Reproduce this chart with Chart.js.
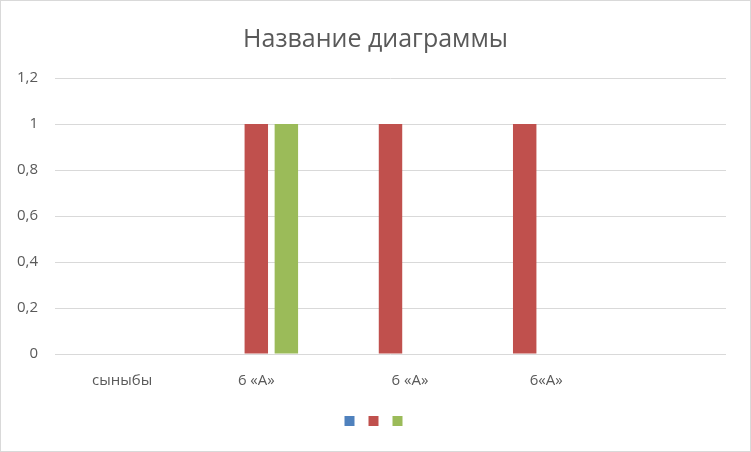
<!DOCTYPE html>
<html>
<head>
<meta charset="utf-8">
<script src="https://cdn.jsdelivr.net/npm/chart.js@4"></script>
<style>
  html, body { margin: 0; padding: 0; background: #fff; }
  #wrap { width: 751px; height: 452px; box-sizing: border-box; border: 1px solid #d9d9d9; }
</style>
</head>
<body>
<div id="wrap"><canvas id="chart" width="749" height="450"></canvas></div>
<script>
// categories as they appear on the axis (extra spaces kept, they shift the text)
const categories = ['сыныбы', '6 «А»', '          6 «А»', '           6«А»', ''];
const seriesBlue = [null, null, null, null, null];
const seriesRed = [null, 1, 1, 1, null];
const seriesGreen = [null, 1, null, null, null];
const yTicks = [0, 0.2, 0.4, 0.6, 0.8, 1, 1.2];

document.addEventListener('DOMContentLoaded', function(){
  const ctx = document.getElementById('chart');
  const grey = '#595959';

  new Chart(ctx, {
    type: 'bar',
    data: {
      labels: categories,
      datasets: [
        { label: '', data: seriesBlue, backgroundColor: '#4f81bd' },
        { label: '', data: seriesRed, backgroundColor: '#c0504d' },
        { label: '', data: seriesGreen, backgroundColor: '#9bbb59' }
      ]
    },
    options: {
      responsive: false,
      animation: false,
      categoryPercentage: 0.672,
      barPercentage: 0.78,
      layout: { padding: { left: 0, right: 0, top: 0, bottom: 15 } },
      plugins: {
        title: {
          display: true,
          text: 'Название диаграммы',
          color: grey,
          font: { family: 'Open Sans', size: 25, weight: 'normal' },
          padding: { top: 24, bottom: 23 }
        },
        legend: {
          position: 'bottom',
          labels: { boxWidth: 10, boxHeight: 10, padding: 10, font: { size: 8 } }
        },
        tooltip: { enabled: false }
      },
      scales: {
        x: {
          afterFit: function(scale){ scale.height -= 2; },
          grid: { display: false, drawTicks: false },
          border: { display: false },
          ticks: {
            color: grey,
            padding: 18,
            maxRotation: 0,
            autoSkip: false,
            font: { family: 'Open Sans', size: 15 }
          }
        },
        y: {
          min: 0,
          max: 1.2,
          afterBuildTicks: function(scale){ scale.ticks = yTicks.map(v => ({ value: v })); },
          afterFit: function(scale){ scale.width = 54; },
          grid: { color: '#d9d9d9', drawTicks: false },
          border: { display: false },
          ticks: {
            color: grey,
            padding: 17,
            font: { family: 'Open Sans', size: 15 },
            callback: v => String(Math.round(v * 10) / 10).replace('.', ',')
          }
        },
        // empty right-hand margin so title and legend stay centred on the whole picture
        right: {
          position: 'right',
          afterFit: function(scale){ scale.width = 24; },
          grid: { display: false, drawTicks: false },
          border: { display: false },
          ticks: { display: false }
        }
      }
    }
  });
});
</script>
</body>
</html>
